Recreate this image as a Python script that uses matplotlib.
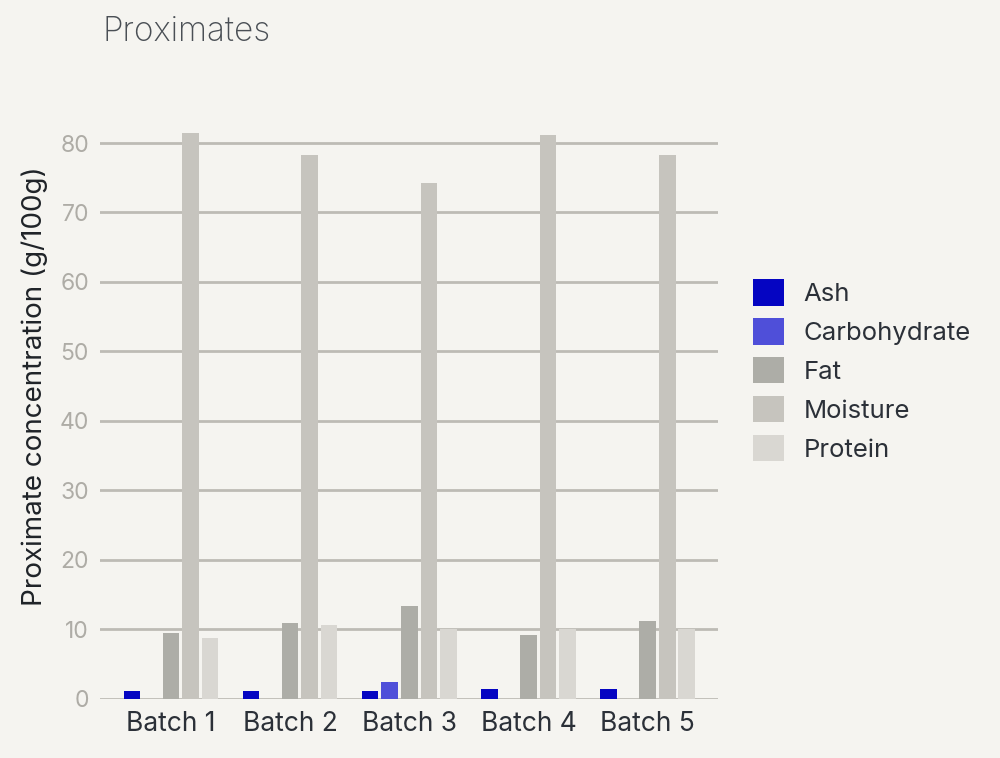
import matplotlib
matplotlib.use("Agg")
import matplotlib.pyplot as plt
import numpy as np

# Proximate values per batch (g/100g)
batches = ["Batch 1", "Batch 2", "Batch 3", "Batch 4", "Batch 5"]
ash = [1.2, 1.2, 1.2, 1.4, 1.4]
carbohydrate = [0, 0, 2.5, 0, 0]
fat = [9.5, 10.9, 13.3, 9.2, 11.2]
moisture = [81.4, 78.3, 74.2, 81.2, 78.3]
protein = [8.8, 10.6, 10.0, 10.0, 10.1]

series = ["Ash", "Carbohydrate", "Fat", "Moisture", "Protein"]
values = [ash, carbohydrate, fat, moisture, protein]
colors = ["#0505c2", "#4f4fd9", "#adada7", "#c6c4be", "#d9d7d2"]

bg = "#f5f4f0"
plt.rcParams["font.family"] = ["Inter", "DejaVu Sans"]

fig = plt.figure(figsize=(10, 7.58), dpi=100, facecolor=bg)
ax = fig.add_axes([0.1, 0.078, 0.618, 0.825], facecolor=bg)

x = np.arange(len(batches))
step = 0.164
width = 0.139
for i, (name, vals, col) in enumerate(zip(series, values, colors)):
    ax.bar(x + (i - 2) * step, vals, width, color=col, label=name, zorder=3)

ax.set_xlim(-0.595, 4.59)
ax.set_ylim(0, 90)
ax.set_yticks(range(0, 81, 10))
ax.grid(axis="y", color="#bdbbb5", linewidth=2, zorder=0)
ax.set_axisbelow(True)
for s in ax.spines.values():
    s.set_visible(False)
ax.tick_params(axis="both", length=0)
ax.tick_params(axis="y", labelsize=16.5, labelcolor="#aeaca6", pad=8)
ax.tick_params(axis="x", labelsize=19, labelcolor="#2b3038", pad=9)
ax.set_xticks(x)
ax.set_xticklabels(batches)

ax.set_ylabel("Proximate concentration (g/100g)", fontsize=20, color="#1f2328", labelpad=8)

fig.text(0.103, 0.958, "Proximates", fontsize=24, color="#4a4f55",
         fontweight="light", ha="left", va="center")

leg = ax.legend(loc="center left", bbox_to_anchor=(1.057, 0.525), frameon=False,
                fontsize=18.5, handlelength=1.2, handleheight=1.2,
                labelspacing=0.47, handletextpad=0.75, borderaxespad=0,
                borderpad=0)
for t in leg.get_texts():
    t.set_color("#2b3038")

fig.savefig("out.png", dpi=100, facecolor=bg)
